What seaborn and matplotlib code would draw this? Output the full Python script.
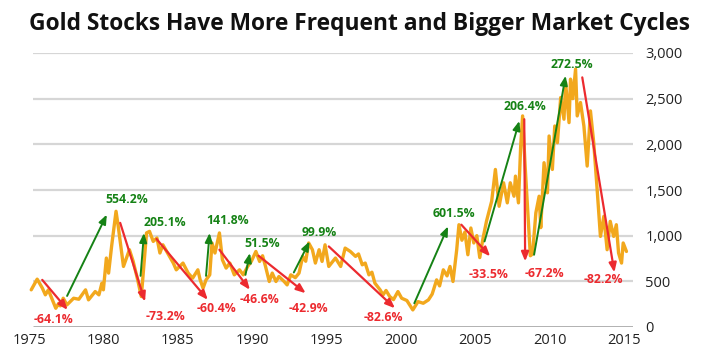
import numpy as np
import pandas as pd
import matplotlib
matplotlib.use("Agg")
import matplotlib.pyplot as plt
import seaborn as sns

# ── data ──────────────────────────────────────────────────────
years = [
    1975.15, 1975.55, 1975.9, 1976.1, 1976.3, 1976.8, 1977.0, 1977.1, 1977.3, 1977.55,
    1978.0, 1978.35, 1978.8, 1979.0, 1979.45, 1979.7, 1979.9, 1980.0, 1980.2, 1980.35,
    1980.55, 1980.85, 1981.0, 1981.35, 1981.75, 1982.0, 1982.3, 1982.55, 1982.9, 1983.1,
    1983.35, 1983.6, 1983.8, 1984.0, 1984.45, 1984.7, 1984.9, 1985.35, 1985.7, 1986.0,
    1986.35, 1986.5, 1986.7, 1986.9, 1987.15, 1987.3, 1987.5, 1987.7, 1987.8, 1988.0,
    1988.25, 1988.5, 1988.8, 1989.15, 1989.4, 1989.7, 1989.95, 1990.25, 1990.5, 1990.7,
    1990.9, 1991.15, 1991.35, 1991.6, 1991.8, 1992.15, 1992.35, 1992.6, 1992.9, 1993.15,
    1993.4, 1993.6, 1993.8, 1994.05, 1994.25, 1994.5, 1994.7, 1994.9, 1995.15, 1995.6,
    1995.95, 1996.25, 1996.6, 1996.95, 1997.15, 1997.4, 1997.6, 1997.85, 1998.05, 1998.25,
    1998.6, 1998.8, 1999.0, 1999.25, 1999.5, 1999.8, 2000.05, 2000.4, 2000.8, 2001.15,
    2001.5, 2001.85, 2002.1, 2002.4, 2002.6, 2002.85, 2003.1, 2003.3, 2003.5, 2003.75,
    2003.9, 2004.1, 2004.3, 2004.5, 2004.7, 2004.9, 2005.1, 2005.3, 2005.5, 2005.75,
    2006.1, 2006.35, 2006.6, 2006.9, 2007.15, 2007.35, 2007.6, 2007.7, 2007.9, 2008.05,
    2008.18, 2008.35, 2008.7, 2008.85, 2009.07, 2009.29, 2009.4, 2009.62, 2009.85, 2009.96,
    2010.18, 2010.34, 2010.52, 2010.74, 2010.96, 2011.07, 2011.3, 2011.4, 2011.55, 2011.74,
    2011.85, 2012.07, 2012.3, 2012.52, 2012.74, 2012.96, 2013.19, 2013.41, 2013.64, 2013.86,
    2014.07, 2014.3, 2014.48, 2014.63, 2014.83, 2014.94, 2015.16,
]
values = [
    407, 524, 425, 352, 407, 205, 260, 231, 315, 242,
    315, 304, 407, 297, 388, 352, 480, 407, 755, 590,
    880, 1267, 1100, 663, 846, 720, 520, 333, 1030, 1047,
    937, 975, 810, 900, 772, 700, 626, 700, 590, 535,
    626, 520, 425, 516, 571, 920, 810, 956, 1030, 736,
    645, 700, 571, 626, 571, 663, 720, 827, 718, 780,
    663, 498, 590, 498, 553, 498, 461, 571, 540, 590,
    773, 720, 920, 846, 700, 846, 718, 900, 663, 755,
    663, 864, 827, 773, 800, 681, 700, 571, 600, 480,
    407, 352, 400, 333, 300, 388, 315, 290, 187, 278,
    260, 297, 360, 516, 450, 626, 560, 663, 498, 846,
    1120, 950, 1040, 791, 1084, 920, 1000, 760, 956, 1157,
    1377, 1725, 1322, 1579, 1359, 1579, 1432, 1652, 1359, 1981,
    2311, 1760, 780, 800, 1250, 1432, 1088, 1799, 1469, 2091,
    1725, 2201, 2018, 2513, 2275, 2678, 2238, 2714, 2500, 2824,
    2311, 2458, 2200, 1762, 2366, 2018, 1505, 992, 1212, 846,
    1157, 992, 1120, 810, 700, 920, 827,
]

# rallies: label, arrow start (year, value), arrow end, label anchor
up_labels = ["554.2%", "205.1%", "141.8%", "51.5%", "99.9%", "601.5%", "206.4%", "272.5%"]
up_start = [(1977.56, 340), (1982.5, 560), (1986.9, 560), (1989.55, 571),
            (1992.8, 597), (2000.9, 260), (2005.62, 937), (2008.95, 791)]
up_end = [(1980.23, 1231), (1982.73, 1030), (1987.14, 1030), (1989.85, 810),
          (1993.86, 937), (2003.17, 1102), (2007.96, 2256), (2011.07, 2751)]
up_text = [(1981.6, 1395), (1984.13, 1140), (1988.36, 1165), (1990.7, 912),
           (1994.48, 1040), (2003.57, 1242), (2008.33, 2414), (2011.52, 2879)]

# declines
down_labels = ["-64.1%", "-73.2%", "-60.4%", "-46.6%", "-42.9%", "-82.6%", "-33.5%", "-67.2%", "-82.2%"]
down_start = [(1975.89, 516), (1981.13, 1140), (1983.57, 964), (1987.8, 846), (1990.43, 780),
              (1995.15, 882), (2004.06, 1120), (2008.29, 2275), (2012.19, 2733)]
down_end = [(1977.6, 187), (1982.8, 278), (1987.02, 297), (1989.85, 407), (1993.6, 370),
            (1999.6, 205), (2006.0, 773), (2008.35, 718), (2014.35, 597)]
down_text = [(1976.67, 85), (1984.2, 113), (1987.58, 205), (1990.52, 304), (1993.8, 205),
             (1998.83, 106), (2005.88, 571), (2009.62, 590), (2013.63, 516)]

x_ticks = [1975, 1980, 1985, 1990, 1995, 2000, 2005, 2010, 2015]
y_ticks = [0, 500, 1000, 1500, 2000, 2500, 3000]

TITLE = "Gold Stocks Have More Frequent and Bigger Market Cycles"

GOLD = "#f2a81d"
GREEN = "#158215"
RED = "#ec2a2f"

# ── plot ──────────────────────────────────────────────────────
sns.set_style("white")
plt.rcParams["font.family"] = ["Open Sans", "DejaVu Sans"]

fig = plt.figure(figsize=(7.03, 3.61), dpi=100)
ax = fig.add_axes([29 / 703, 34 / 361, 604 / 703, 274 / 361])

df = pd.DataFrame({"year": years, "value": values})

ax.set_xlim(1975, 2015.6)
ax.set_ylim(0, 3000)

# grid lines (start a little right of 1975 like the original)
for y in y_ticks[1:]:
    ax.hlines(y, 1975.27, 2015.6, color="#d6d6d6", lw=1.6, zorder=0)
ax.hlines(0, 1975.27, 2015.6, color="#9a9a9a", lw=1.8, zorder=1)

sns.lineplot(data=df, x="year", y="value", ax=ax, color=GOLD, lw=2.4,
             zorder=3, clip_on=False)

for lab, s, e, t in zip(up_labels, up_start, up_end, up_text):
    ax.annotate("", xy=e, xytext=s, zorder=5,
                arrowprops=dict(arrowstyle="-|>,head_length=0.55,head_width=0.22",
                                color=GREEN, lw=1.4, shrinkA=0, shrinkB=0))
    ax.text(t[0], t[1], lab, color=GREEN, fontsize=8.8, fontweight="bold",
            ha="center", va="center", zorder=6)

for lab, s, e, t in zip(down_labels, down_start, down_end, down_text):
    ax.annotate("", xy=e, xytext=s, zorder=5,
                arrowprops=dict(arrowstyle="-|>,head_length=0.55,head_width=0.22",
                                color=RED, lw=1.6, shrinkA=0, shrinkB=0))
    ax.text(t[0], t[1], lab, color=RED, fontsize=8.8, fontweight="bold",
            ha="center", va="center", zorder=6)

ax.set_xticks(x_ticks)
ax.set_xticklabels([str(x) for x in x_ticks])
ax.set_yticks(y_ticks)
ax.set_yticklabels([f"{y:,}" for y in y_ticks])
ax.yaxis.tick_right()
ax.tick_params(axis="both", length=0, labelsize=10.5, labelcolor="#222222")
ax.tick_params(axis="y", pad=9)
ax.tick_params(axis="x", pad=4)
ax.set_xlabel("")
ax.set_ylabel("")
sns.despine(ax=ax, left=True, right=True, top=True, bottom=True)

fig.text(0.512, 0.934, TITLE, ha="center", va="center", fontsize=16.4,
         fontweight="bold", color="#111111")

fig.savefig("out.png", dpi=100)
